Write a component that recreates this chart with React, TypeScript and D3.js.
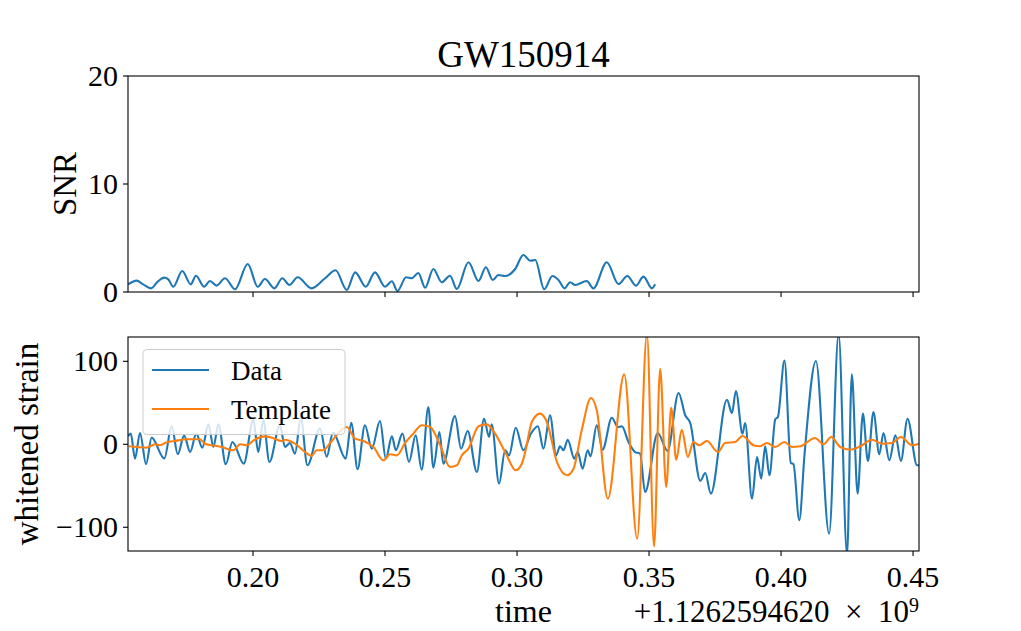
import React from "react";
import * as d3 from "d3";

// GPS offset shown on the axis: +1.1262594620 × 10^9
const timeOffsetLabel = "+1.1262594620\u2002\u00d7\u200210";
const timeOffsetExp = "9";

const xTicks = [0.2, 0.25, 0.3, 0.35, 0.4, 0.45];
const xTickLabels = ["0.20", "0.25", "0.30", "0.35", "0.40", "0.45"];
const snrTicks = [0, 10, 20];
const strainTicks = [-100, 0, 100];
const strainTickLabels = ["\u2212100", "0", "100"];

// SNR time series (t in s after offset, SNR)
const snrSeries: [number, number][] = [
  [0.1527, 0.71], [0.1559, 1.05], [0.1584, 0.71], [0.1614, 0.34], [0.1639, 0.96], [0.1664, 1.33],
  [0.1679, 1.17], [0.1698, 0.49], [0.1732, 1.94], [0.1764, 0.71], [0.1784, 1.51], [0.1815, 0.49],
  [0.1837, 1.02], [0.1862, 0.59], [0.1894, 1.27], [0.1932, 0.25], [0.198, 2.59], [0.2018, 0.49],
  [0.2045, 1.2], [0.2081, 0.34], [0.2111, 1.27], [0.2138, 0.65], [0.2169, 1.36], [0.2222, 0.34],
  [0.2273, 1.27], [0.2313, 2.01], [0.2355, 0.19], [0.2387, 1.82], [0.2427, 0.49], [0.2462, 1.82],
  [0.25, 0.49], [0.2526, 1.0], [0.2547, 0.09], [0.258, 1.36], [0.2601, 1.27], [0.2626, 1.76],
  [0.2652, 0.4], [0.2683, 2.13], [0.2715, 0.9], [0.2746, 1.51], [0.2772, 0.28], [0.2816, 2.75],
  [0.2854, 1.02], [0.2882, 2.29], [0.2908, 1.11], [0.2929, 1.57], [0.2955, 1.48], [0.2993, 2.13],
  [0.3024, 3.43], [0.305, 2.9], [0.3069, 2.96], [0.3103, 0.25], [0.3134, 1.48], [0.3157, 1.11],
  [0.318, 0.34], [0.3201, 0.9], [0.322, 0.65], [0.3264, 1.02], [0.3289, 0.34], [0.334, 2.75],
  [0.3384, 0.74], [0.3418, 1.48], [0.345, 0.59], [0.3479, 1.42], [0.3511, 0.34], [0.3523, 0.71],
];

// Whitened strain data
const dataSeries: [number, number][] = [
  [0.1527, 10], [0.1537, 12.8], [0.1553, -17.3], [0.1572, 13.6], [0.1595, -24], [0.1616, 8],
  [0.1664, -17], [0.1692, 21.7], [0.1715, -12], [0.1739, 10.4], [0.1762, -9.3], [0.1785, 12.8],
  [0.1808, -4], [0.1831, 24], [0.185, -3.3], [0.1869, 24], [0.1897, -24], [0.1922, 2.8],
  [0.1965, -23.3], [0.2001, 29.6], [0.202, -9.3], [0.2039, 28.9], [0.2062, -21.3], [0.2102, 22.9],
  [0.2121, -3.3], [0.214, 1.6], [0.2159, -11.3], [0.2181, 32], [0.2206, -25.3], [0.2254, 19],
  [0.2279, -15], [0.2303, 14], [0.2351, -17.3], [0.2372, 26], [0.2396, -30], [0.2424, 22.9],
  [0.245, -5.3], [0.2481, 28], [0.2503, -17.3], [0.2526, 9.6], [0.2541, -7.2], [0.2566, 12.8],
  [0.2591, -21.3], [0.2616, 10.8], [0.2639, -30.6], [0.2664, 45], [0.2683, -28.2], [0.2706, 14.8],
  [0.2721, -23.4], [0.2765, 34], [0.2788, -5.3], [0.2813, 16], [0.2848, -33.4], [0.2875, 30.8],
  [0.2894, 8.8], [0.2904, 24.1], [0.2932, -47.5], [0.2955, -7.2], [0.297, -13.3], [0.2995, 20],
  [0.3024, -7.2], [0.3053, 13], [0.3079, 21.7], [0.31, -5.3], [0.3125, 35], [0.3148, -13.3],
  [0.3163, -2.4], [0.3176, -7.2], [0.3192, 5.5], [0.3217, -17.3], [0.323, -9.3], [0.3248, -29.4],
  [0.3268, -7.2], [0.3278, -14.5], [0.3302, 22.9], [0.3324, -6.5], [0.3359, 32], [0.3382, 20.8],
  [0.3397, 21.7], [0.3422, 2.8], [0.3447, -9.3], [0.3466, -11.3], [0.3485, -57.5], [0.3533, 13.6],
  [0.357, -8], [0.3612, 61.8], [0.3637, 35], [0.3656, 25.7], [0.3694, -44], [0.3713, -34.6],
  [0.3734, -59.5], [0.3795, 53.7], [0.3814, 37.7], [0.3829, 64.2], [0.3854, 12.8], [0.3864, 25.7],
  [0.389, -65.5], [0.3909, -15.3], [0.3925, -41.4], [0.394, -2.4], [0.3956, -37.4], [0.3978, 30],
  [0.3988, 33], [0.4013, 101], [0.4037, -22.5], [0.4047, -24], [0.4069, -91.6], [0.4089, -12],
  [0.4132, 100.4], [0.4182, -107.7], [0.4218, 133], [0.425, -133], [0.4268, 84.2], [0.429, -59.5],
  [0.431, 36.9], [0.4329, -20.1], [0.435, 38.9], [0.4372, -12], [0.4388, 13.6], [0.441, -19.3],
  [0.4433, 10.8], [0.4454, -20.1], [0.4479, 30.8], [0.4515, -25.3], [0.4524, -25.3],
];

// Whitened template
const templateSeries: [number, number][] = [
  [0.153, -2.4], [0.1597, -4], [0.1629, 0], [0.1648, -1.2], [0.1673, 2.4], [0.1704, 4],
  [0.1749, 6], [0.1799, 6], [0.1818, 0.7], [0.1844, -1.2], [0.1881, -3.3], [0.1925, -7.2],
  [0.1951, 0], [0.1976, -1.2], [0.2008, 6], [0.2045, 9.6], [0.2071, 8], [0.2109, 4],
  [0.2121, 5.5], [0.2159, 0.7], [0.2197, -9.3], [0.2222, -14], [0.2241, -7.2], [0.2266, -7.2],
  [0.2292, 1.6], [0.2355, 20.8], [0.2387, 6.8], [0.2418, 4], [0.2456, -3.3], [0.2494, -19.3],
  [0.2519, -12], [0.2545, -13.3], [0.2576, 1.6], [0.2607, 12.8], [0.2639, 22.9], [0.2671, 20.8],
  [0.2709, -1.2], [0.2746, -27.3], [0.2772, -25.3], [0.2791, -13.3], [0.2816, -5.3], [0.2854, 21.7],
  [0.2886, 24], [0.2917, 12.8], [0.2955, -9.3], [0.2995, -31.3], [0.3018, -23.4], [0.3031, -9.3],
  [0.3056, 26.9], [0.3087, 36.9], [0.3113, 26.9], [0.3151, -21.3], [0.3189, -37.3], [0.3214, -29.4],
  [0.3245, 16.9], [0.328, 55.8], [0.3302, 41], [0.3344, -65.5], [0.3406, 84.2], [0.3455, -113.7],
  [0.3492, 133], [0.3519, -123], [0.3542, 91], [0.3565, -51.4], [0.3584, 44], [0.3603, -18.5],
  [0.3624, 17.6], [0.3647, -15.3], [0.3668, 2.8], [0.369, -1.2], [0.3719, 4], [0.3761, -9.3],
  [0.3788, 1.6], [0.3826, 2.8], [0.3854, 10], [0.3896, -1.2], [0.3921, -2.4], [0.3946, 1.6],
  [0.3978, -3.3], [0.4013, 2.8], [0.4041, -3.3], [0.4073, -2.4], [0.4129, 7.6], [0.4161, 0],
  [0.419, 8.8], [0.4224, -3.3], [0.4262, -6.5], [0.43, -2.4], [0.4344, 5.5], [0.4382, 0.7],
  [0.442, 1.6], [0.4454, 8.8], [0.4496, -1.2], [0.4521, 0.7],
];

const legendItems = [
  { label: "Data", color: "#1f77b4" },
  { label: "Template", color: "#ff7f0e" },
];

const W = 1021;
const H = 631;
const FONT = "'Liberation Serif', 'Times New Roman', serif";

export default function App() {
  const left = 128;
  const right = 919;
  const topBox = { y0: 76, y1: 292 };
  const botBox = { y0: 337, y1: 551 };

  const x = d3.scaleLinear().domain([0.15265, 0.45225]).range([left, right]);
  const ySnr = d3.scaleLinear().domain([0, 20]).range([topBox.y1, topBox.y0]);
  const yStrain = d3.scaleLinear().domain([-128.6, 129.3]).range([botBox.y1, botBox.y0]);

  const snrLine = d3
    .line<[number, number]>()
    .x((d) => x(d[0]))
    .y((d) => ySnr(d[1]))
    .curve(d3.curveMonotoneX);
  const strainLine = d3
    .line<[number, number]>()
    .x((d) => x(d[0]))
    .y((d) => yStrain(d[1]))
    .curve(d3.curveMonotoneX);

  const tickLen = 5;
  const axisStroke = 1.1;

  return (
    <svg
      width={W}
      height={H}
      viewBox={`0 0 ${W} ${H}`}
      style={{ position: "absolute", left: 0, top: 0, background: "#fff" }}
      fontFamily={FONT}
    >
      <defs>
        <clipPath id="clipTop">
          <rect x={left} y={topBox.y0} width={right - left} height={topBox.y1 - topBox.y0} />
        </clipPath>
        <clipPath id="clipBot">
          <rect x={left} y={botBox.y0} width={right - left} height={botBox.y1 - botBox.y0} />
        </clipPath>
      </defs>
      <rect x={0} y={0} width={W} height={H} fill="#fff" />

      {/* Title */}
      <text x={(left + right) / 2} y={67} fontSize={37} textAnchor="middle">
        GW150914
      </text>

      {/* Top panel */}
      <g clipPath="url(#clipTop)">
        <path d={snrLine(snrSeries) || ""} fill="none" stroke="#1f77b4" strokeWidth={2.1} strokeLinejoin="round" />
      </g>
      <rect x={left} y={topBox.y0} width={right - left} height={topBox.y1 - topBox.y0} fill="none" stroke="#000" strokeWidth={axisStroke} />
      {xTicks.map((t) => (
        <line key={"tt" + t} x1={x(t)} x2={x(t)} y1={topBox.y1} y2={topBox.y1 + tickLen} stroke="#000" strokeWidth={axisStroke} />
      ))}
      {snrTicks.map((v) => (
        <g key={"st" + v}>
          <line x1={left - tickLen} x2={left} y1={ySnr(v)} y2={ySnr(v)} stroke="#000" strokeWidth={axisStroke} />
          <text x={left - tickLen - 5} y={ySnr(v) + 10} fontSize={30} textAnchor="end">
            {String(v)}
          </text>
        </g>
      ))}
      <text transform={`translate(76, ${(topBox.y0 + topBox.y1) / 2}) rotate(-90)`} fontSize={33} textAnchor="middle">
        SNR
      </text>

      {/* Bottom panel */}
      <g clipPath="url(#clipBot)">
        <path d={strainLine(dataSeries) || ""} fill="none" stroke="#1f77b4" strokeWidth={2.1} strokeLinejoin="round" />
        <path d={strainLine(templateSeries) || ""} fill="none" stroke="#ff7f0e" strokeWidth={2.1} strokeLinejoin="round" />
      </g>

      {/* Legend */}
      <g>
        <rect x={143} y={349.5} width={202} height={85} rx={4} fill="#fff" fillOpacity={0.8} stroke="#cccccc" strokeWidth={1} />
        {legendItems.map((item, i) => (
          <g key={item.label}>
            <line x1={152} x2={209} y1={370 + i * 39} y2={370 + i * 39} stroke={item.color} strokeWidth={2.1} />
            <text x={231} y={380 + i * 39} fontSize={27}>
              {item.label}
            </text>
          </g>
        ))}
      </g>

      <rect x={left} y={botBox.y0} width={right - left} height={botBox.y1 - botBox.y0} fill="none" stroke="#000" strokeWidth={axisStroke} />
      {xTicks.map((t, i) => (
        <g key={"bt" + t}>
          <line x1={x(t)} x2={x(t)} y1={botBox.y1} y2={botBox.y1 + tickLen} stroke="#000" strokeWidth={axisStroke} />
          <text x={x(t)} y={587} fontSize={30} textAnchor="middle">
            {xTickLabels[i]}
          </text>
        </g>
      ))}
      {strainTicks.map((v, i) => (
        <g key={"yt" + v}>
          <line x1={left - tickLen} x2={left} y1={yStrain(v)} y2={yStrain(v)} stroke="#000" strokeWidth={axisStroke} />
          <text x={left - tickLen - 5} y={yStrain(v) + 10} fontSize={30} textAnchor="end">
            {strainTickLabels[i]}
          </text>
        </g>
      ))}
      <text transform={`translate(38, ${(botBox.y0 + botBox.y1) / 2}) rotate(-90)`} fontSize={33} textAnchor="middle">
        whitened strain
      </text>

      {/* X label and offset */}
      <text x={(left + right) / 2} y={622} fontSize={32} textAnchor="middle">
        time
      </text>
      <text x={right} y={622} fontSize={31} textAnchor="end">
        {timeOffsetLabel}
        <tspan dy={-10} fontSize={20}>
          {timeOffsetExp}
        </tspan>
      </text>
    </svg>
  );
}
